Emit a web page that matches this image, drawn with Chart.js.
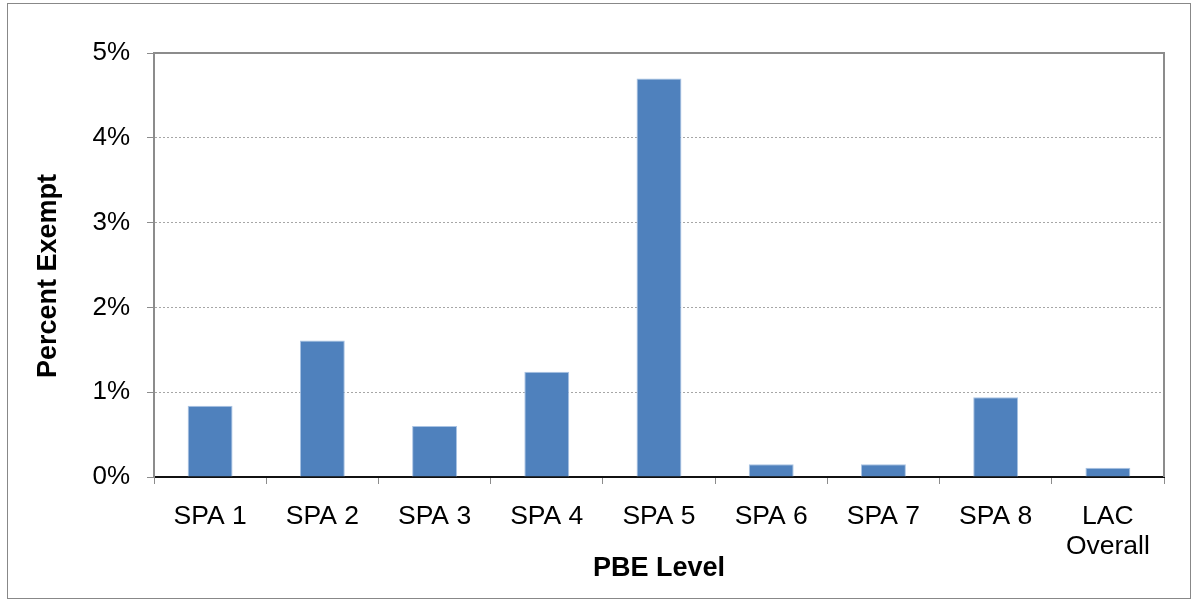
<!DOCTYPE html>
<html>
<head>
<meta charset="utf-8">
<script src="https://cdn.jsdelivr.net/npm/chart.js@4/dist/chart.umd.min.js"></script>
<style>
  html, body { margin: 0; padding: 0; background: #fff; }
  #wrap { position: relative; width: 1194px; height: 600px; }
  #frame { position: absolute; left: 7px; top: 3px; width: 1184px; height: 596px; border: 1px solid #888; box-sizing: border-box; pointer-events: none; }
  canvas { position: absolute; left: 0; top: 0; }
</style>
</head>
<body>
<div id="wrap">
  <canvas id="exemptChart" width="1194" height="600"></canvas>
  <div id="frame"></div>
</div>
<script>
// Chart data
const categories = ['SPA 1', 'SPA 2', 'SPA 3', 'SPA 4', 'SPA 5', 'SPA 6', 'SPA 7', 'SPA 8', ['LAC', 'Overall']];
const percentExempt = [0.84, 1.61, 0.60, 1.24, 4.70, 0.15, 0.15, 0.94, 0.11];
const yTickValues = [0, 1, 2, 3, 4, 5];
const yTickLabels = ['0%', '1%', '2%', '3%', '4%', '5%'];
const yTitle = 'Percent Exempt';
const xTitle = 'PBE Level';

const fontFamily = '"Liberation Sans", Arial, Helvetica, sans-serif';

// top and right edges of the plot box, plus the y title (sits a bit below centre in the original)
const plotFrame = {
  id: 'plotFrame',
  afterDatasetsDraw(chart) {
    const { ctx, chartArea } = chart;
    ctx.save();
    ctx.strokeStyle = '#8c8c8c';
    ctx.lineWidth = 2;
    ctx.beginPath();
    ctx.moveTo(chartArea.left, chartArea.top);
    ctx.lineTo(chartArea.right, chartArea.top);
    ctx.lineTo(chartArea.right, chartArea.bottom);
    ctx.stroke();
    ctx.restore();
  },
  afterDraw(chart) {
    const { ctx, chartArea } = chart;
    ctx.save();
    ctx.translate(49, (chartArea.top + chartArea.bottom) / 2 + 11);
    ctx.rotate(-Math.PI / 2);
    ctx.font = 'bold 27px ' + fontFamily;
    ctx.fillStyle = '#000';
    ctx.textAlign = 'center';
    ctx.textBaseline = 'middle';
    ctx.fillText(yTitle, 0, 0);
    ctx.restore();
  }
};

const ctx = document.getElementById('exemptChart').getContext('2d');
new Chart(ctx, {
  type: 'bar',
  data: {
    labels: categories,
    datasets: [{
      label: yTitle,
      data: percentExempt,
      backgroundColor: '#4f81bd',
      borderColor: '#a9c3e3',
      borderWidth: 1,
      barPercentage: 0.4,
      categoryPercentage: 1.0
    }]
  },
  options: {
    responsive: false,
    animation: false,
    devicePixelRatio: 1,
    layout: { padding: { left: 0, top: 53, right: 30, bottom: 0 } },
    plugins: {
      legend: { display: false },
      tooltip: { enabled: false }
    },
    scales: {
      x: {
        offset: true,
        afterFit(scale) { scale.height = 123; },
        grid: {
          offset: true,
          drawOnChartArea: false,
          color: '#8c8c8c',
          tickLength: 7
        },
        border: { color: '#111', width: 2 },
        ticks: {
          color: '#000',
          padding: 18,
          maxRotation: 0,
          font: { family: fontFamily, size: 26.5, lineHeight: 1.13 }
        },
        title: {
          display: true,
          text: xTitle,
          color: '#000',
          padding: { top: 0, bottom: 15 },
          font: { family: fontFamily, size: 27, weight: 'bold' }
        }
      },
      y: {
        min: 0,
        max: 5,
        afterFit(scale) { scale.width = 154; },
        afterBuildTicks(scale) { scale.ticks = yTickValues.map(v => ({ value: v })); },
        grid: {
          color: '#a6a6a6',
          lineWidth: 1,
          tickLength: 7,
          tickColor: '#8c8c8c'
        },
        border: { color: '#8c8c8c', width: 2, dash: [2, 2] },
        ticks: {
          color: '#000',
          padding: 17,
          font: { family: fontFamily, size: 26 },
          callback: (value, i) => yTickLabels[i]
        },
        title: { display: false }
      }
    }
  },
  plugins: [plotFrame]
});
</script>
</body>
</html>
